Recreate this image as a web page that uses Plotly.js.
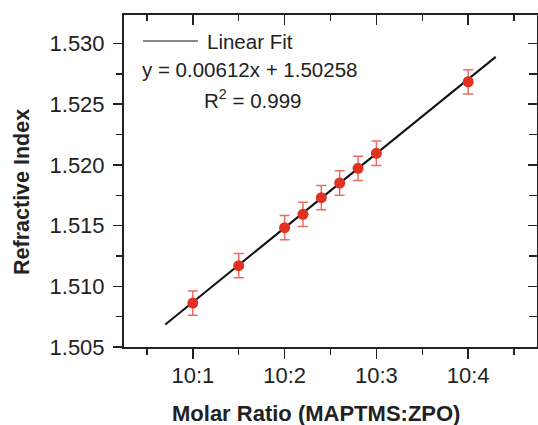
<!DOCTYPE html>
<html>
<head>
<meta charset="utf-8">
<script src="https://cdn.plot.ly/plotly-3.0.1.min.js"></script>
<style>html,body{margin:0;padding:0;background:#fff;}#chart{width:538px;height:425px;}</style>
</head>
<body>
<div id="chart"></div>
<script>
// Data
var ratioX = [1, 1.5, 2, 2.2, 2.4, 2.6, 2.8, 3, 4];
var refractiveIndex = [1.50862, 1.51170, 1.51483, 1.51593, 1.51730, 1.51851, 1.51972, 1.52096, 1.52685];
var errorValues = [0.001, 0.001, 0.001, 0.001, 0.001, 0.001, 0.001, 0.001, 0.001];
var fitX = [0.7, 4.3];
var fitY = [1.50686, 1.52890];
var xTickVals = [1, 2, 3, 4];
var xTickText = ['10:1', '10:2', '10:3', '10:4'];
var yTickVals = [1.505, 1.510, 1.515, 1.520, 1.525, 1.530];
var yTickText = ['1.505', '1.510', '1.515', '1.520', '1.525', '1.530'];

var FONT = 'Liberation Sans, Arial, Helvetica, sans-serif';
var AX = '#222';
var xRange = [0.25, 4.75];
var yRange = [1.505, 1.53235];

var traces = [
  {x: fitX, y: fitY, type: 'scatter', mode: 'lines', line: {color: '#111', width: 2}, showlegend: false, hoverinfo: 'skip'},
  {x: ratioX, y: refractiveIndex, type: 'scatter', mode: 'markers',
   marker: {color: '#e03222', size: 11, line: {width: 0}},
   error_y: {type: 'data', array: errorValues, visible: true, color: 'rgba(226,60,45,0.75)', thickness: 1.5, width: 5},
   showlegend: false}
];

var layout = {
  width: 538, height: 425,
  margin: {l: 124, r: 1, t: 15, b: 78},
  paper_bgcolor: '#fff', plot_bgcolor: '#fff',
  font: {family: FONT, size: 20.5, color: AX},
  showlegend: false,
  xaxis: {range: xRange, tickvals: xTickVals, ticktext: xTickText, showgrid: false, zeroline: false,
    showline: true, linecolor: AX, linewidth: 2, ticks: 'outside', ticklen: 10, tickwidth: 1.5, tickcolor: AX,
    minor: {dtick: 0.5, ticks: 'outside', ticklen: 6, tickwidth: 1.5, tickcolor: AX, showgrid: false},
    tickfont: {family: FONT, size: 22, color: AX}, ticklabelstandoff: -2, fixedrange: true},
  yaxis: {range: yRange, tickvals: yTickVals, ticktext: yTickText, showgrid: false, zeroline: false,
    showline: true, linecolor: AX, linewidth: 2, ticks: 'outside', ticklen: 9, tickwidth: 1.5, tickcolor: AX,
    minor: {dtick: 0.0025, tick0: 1.505, ticks: 'outside', ticklen: 6, tickwidth: 1.5, tickcolor: AX, showgrid: false},
    tickfont: {family: FONT, size: 22, color: AX}, ticklabelstandoff: 4, fixedrange: true},
  xaxis2: {range: xRange, overlaying: 'x', side: 'top', anchor: 'y', tickvals: xTickVals, showticklabels: false,
    showgrid: false, zeroline: false, showline: true, linecolor: AX, linewidth: 2,
    ticks: 'inside', ticklen: 10, tickwidth: 1.5, tickcolor: AX,
    minor: {dtick: 0.5, ticks: 'inside', ticklen: 6, tickwidth: 1.5, tickcolor: AX, showgrid: false}},
  yaxis2: {range: yRange, overlaying: 'y', side: 'right', anchor: 'x', tickvals: yTickVals, showticklabels: false,
    showgrid: false, zeroline: false, showline: true, linecolor: AX, linewidth: 2,
    ticks: 'inside', ticklen: 9, tickwidth: 1.5, tickcolor: AX,
    minor: {dtick: 0.0025, tick0: 1.505, ticks: 'inside', ticklen: 8, tickwidth: 1.5, tickcolor: AX, showgrid: false}},
  shapes: [
    {type: 'line', xref: 'paper', yref: 'paper', x0: 0.046, x1: 0.179, y0: 0.9217, y1: 0.9217, line: {color: '#111', width: 1.2}}
  ],
  annotations: [
    {text: 'Linear Fit', xref: 'paper', yref: 'paper', x: 0.196, y: 0.919, xanchor: 'left', yanchor: 'middle', showarrow: false, font: {family: FONT, size: 20.5, color: AX}},
    {text: 'y = 0.00612x + 1.50258', xref: 'paper', yref: 'paper', x: 0.303, y: 0.837, xanchor: 'center', yanchor: 'middle', showarrow: false, font: {family: FONT, size: 20.5, color: AX}},
    {text: 'R<sup>2</sup> = 0.999', xref: 'paper', yref: 'paper', x: 0.310, y: 0.747, xanchor: 'center', yanchor: 'middle', showarrow: false, font: {family: FONT, size: 20.5, color: AX}},
    {text: '<b>Refractive Index</b>', xref: 'paper', yref: 'paper', x: -0.247, y: 0.467, xanchor: 'center', yanchor: 'middle', textangle: -90, showarrow: false, font: {family: FONT, size: 21.5, color: AX}},
    {text: '<b>Molar Ratio (MAPTMS:ZPO)</b>', xref: 'paper', yref: 'paper', x: 0.465, y: -0.199, xanchor: 'center', yanchor: 'middle', showarrow: false, font: {family: FONT, size: 22, color: AX}}
  ]
};

// dummy trace to activate the mirror axes
traces.push({x: [], y: [], xaxis: 'x2', yaxis: 'y2', type: 'scatter', mode: 'markers', showlegend: false, hoverinfo: 'skip'});

Plotly.newPlot('chart', traces, layout, {staticPlot: true, displayModeBar: false});
</script>
</body>
</html>
